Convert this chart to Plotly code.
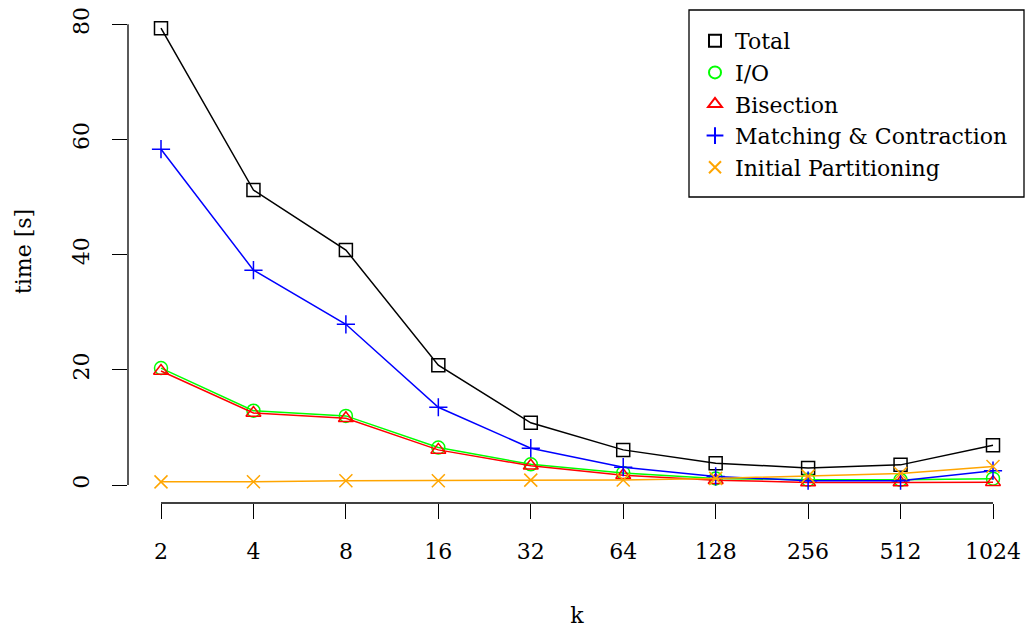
import plotly.graph_objects as go

k_labels = ["2", "4", "8", "16", "32", "64", "128", "256", "512", "1024"]
total = [79.3, 51.2, 40.8, 20.8, 10.8, 6.1, 3.8, 2.95, 3.5, 6.9]
io = [20.3, 12.9, 12.0, 6.5, 3.6, 2.1, 1.15, 0.9, 0.9, 1.1]
bisection = [19.8, 12.5, 11.6, 6.1, 3.35, 1.7, 0.85, 0.45, 0.45, 0.5]
matching = [58.3, 37.3, 27.9, 13.5, 6.4, 3.1, 1.5, 0.75, 0.75, 2.5]
initial = [0.55, 0.57, 0.75, 0.75, 0.85, 0.87, 1.15, 1.55, 2.0, 3.2]

series = [
    ("Total", total, "black", "square-open"),
    ("I/O", io, "#00FF00", "circle-open"),
    ("Bisection", bisection, "#FF0000", "triangle-up-open"),
    ("Matching & Contraction", matching, "#0000FF", "cross-thin-open"),
    ("Initial Partitioning", initial, "#FFA500", "x-thin-open"),
]

FONT = "DejaVu Serif"
FS = 22
x_idx = list(range(len(k_labels)))

# plot-area geometry in pixels (used for the legend frame)
W, H = 1026, 628
ML, MR, MT, MB = 128, 0, 0, 125
PW, PH = W - ML - MR, H - MT - MB

fig = go.Figure()
for name, vals, color, sym in series:
    fig.add_trace(go.Scatter(
        x=x_idx, y=vals, name=name, mode="lines+markers", showlegend=False,
        line=dict(color=color, width=1.5),
        marker=dict(symbol=sym, size=13, color=color,
                    line=dict(color=color, width=1.5)),
    ))
# legend entries: markers only (as in the R legend)
for name, vals, color, sym in series:
    fig.add_trace(go.Scatter(
        x=[None], y=[None], name=name, mode="markers",
        marker=dict(symbol=sym, size=13, color=color,
                    line=dict(color=color, width=1.3)),
    ))

fig.update_layout(
    width=W, height=H,
    margin=dict(l=ML, r=MR, t=MT, b=MB),
    paper_bgcolor="white", plot_bgcolor="white",
    font=dict(family=FONT, size=FS, color="black"),
    showlegend=True,
    legend=dict(
        x=(695 - ML) / PW, xanchor="left", y=1 - 20 / PH, yanchor="top",
        borderwidth=0, bgcolor="rgba(0,0,0,0)",
        font=dict(family=FONT, size=FS, color="black"),
        tracegroupgap=0, itemsizing="constant",
    ),
    xaxis=dict(
        range=[-0.357, 9.357], tickmode="array", tickvals=x_idx, ticktext=k_labels,
        showgrid=False, zeroline=False, showline=False,
        ticks="outside", ticklen=15, tickwidth=1.3, tickcolor="black",
        ticklabelstandoff=14,
        title=dict(text="k", standoff=44, font=dict(family=FONT, size=FS)),
    ),
    yaxis=dict(
        range=[-3.12, 84.2], tickmode="array", tickvals=[0, 20, 40, 60, 80],
        showgrid=False, zeroline=False, showline=False,
        ticks="outside", ticklen=15, tickwidth=1.3, tickcolor="black",
        tickangle=-90, ticklabelstandoff=14,
        title=dict(text="time [s]", standoff=31, font=dict(family=FONT, size=FS)),
    ),
)

# legend frame (R-style box)
fig.add_shape(type="rect", xref="paper", yref="paper",
              x0=(689 - ML) / PW, x1=(1024 - ML) / PW,
              y0=1 - 197 / PH, y1=1 - 10 / PH,
              line=dict(color="black", width=1.3), fillcolor="white", layer="above")

# R-style axis lines spanning only the tick range
fig.add_shape(type="line", xref="x", yref="paper", x0=0, x1=len(k_labels) - 1, y0=0, y1=0,
              line=dict(color="black", width=1.3))
fig.add_shape(type="line", xref="paper", yref="y", x0=0, x1=0, y0=0, y1=80,
              line=dict(color="black", width=1.3))

fig.write_html("out.html", config={"displayModeBar": False},
               post_script="document.body.style.margin='0px';document.body.style.overflow='hidden';")
